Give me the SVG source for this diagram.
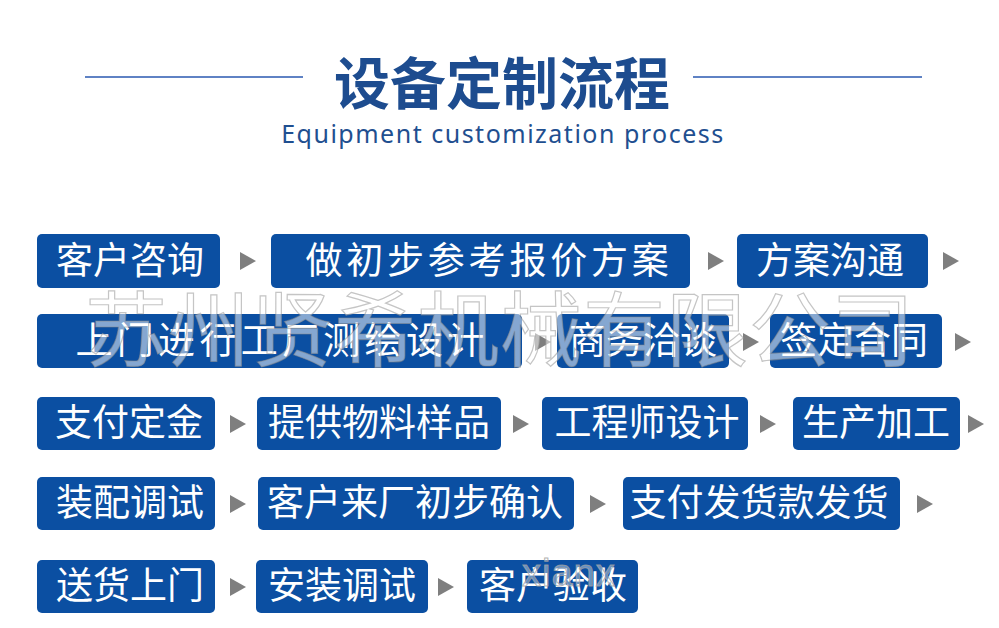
<svg xmlns="http://www.w3.org/2000/svg" width="999" height="628" viewBox="0 0 999 628">
<style>
.box{fill:#0b4fa2;}
.t{font-family:"Noto Sans CJK SC","Noto Sans",sans-serif;font-size:37px;fill:#ffffff;text-anchor:middle;}
.title{font-family:"Noto Sans CJK SC","Noto Sans",sans-serif;font-size:56px;font-weight:bold;fill:#1d4c8f;text-anchor:middle;}
.sub{font-family:"Noto Sans","Open Sans",sans-serif;font-size:25px;fill:#1f4f90;text-anchor:middle;letter-spacing:1.5px;}
.rule{stroke:#5f82c4;stroke-width:2;}
.arr{fill:#7f7f7f;}
.wm{font-family:"Noto Sans CJK SC",sans-serif;font-size:82px;font-weight:normal;fill:#ffffff;fill-opacity:0.5;stroke:#8c8c8c;stroke-opacity:0.5;stroke-width:1.2;}
.wm2{font-family:"Liberation Sans",sans-serif;font-size:38px;fill:#ffffff;fill-opacity:0.4;stroke:#a0a0a0;stroke-opacity:0.8;stroke-width:1;letter-spacing:1px;}
</style>
<defs>
<path id="tri" d="M0,-9 L16,0 L0,9 Z"/>
</defs>
<rect width="999" height="628" fill="#ffffff"/>
<g id="header">
<line class="rule" x1="85" y1="77" x2="303" y2="77"/>
<line class="rule" x1="693" y1="77" x2="922" y2="77"/>
<text class="title" x="502" y="104">设备定制流程</text>
<text class="sub" x="503" y="143">Equipment customization process</text>
</g>
<g id="connectors">
<use class="arr" href="#tri" x="240" y="261"/>
<use class="arr" href="#tri" x="708" y="261"/>
<use class="arr" href="#tri" x="943" y="261"/>
<use class="arr" href="#tri" x="535" y="342"/>
<use class="arr" href="#tri" x="743" y="342"/>
<use class="arr" href="#tri" x="955" y="342"/>
<use class="arr" href="#tri" x="230" y="424"/>
<use class="arr" href="#tri" x="513" y="424"/>
<use class="arr" href="#tri" x="760" y="424"/>
<use class="arr" href="#tri" x="968" y="424"/>
<use class="arr" href="#tri" x="230" y="504"/>
<use class="arr" href="#tri" x="590" y="504"/>
<use class="arr" href="#tri" x="917" y="504"/>
<use class="arr" href="#tri" x="230" y="587"/>
<use class="arr" href="#tri" x="438" y="587"/>
</g>
<g id="n1"><rect class="box" x="37" y="234" width="183" height="54" rx="5"/><text class="t" x="130" y="274">客户咨询</text></g>
<g id="n2"><rect class="box" x="271" y="234" width="419" height="54" rx="5"/><text class="t" x="489" y="274" style="letter-spacing:3.8px">做初步参考报价方案</text></g>
<g id="n3"><rect class="box" x="737" y="234" width="191" height="54" rx="5"/><text class="t" x="830" y="274">方案沟通</text></g>
<g id="n4"><rect class="box" x="37" y="314" width="485" height="54" rx="5"/><text class="t" x="282" y="354" style="letter-spacing:4.3px">上门进行工厂测绘设计</text></g>
<g id="n5"><rect class="box" x="557" y="314" width="172" height="54" rx="5"/><text class="t" x="643" y="354">商务洽谈</text></g>
<g id="n6"><rect class="box" x="770" y="314" width="172" height="54" rx="5"/><text class="t" x="854" y="354">签定合同</text></g>
<g id="n7"><rect class="box" x="37" y="397" width="178" height="53" rx="5"/><text class="t" x="129" y="436">支付定金</text></g>
<g id="n8"><rect class="box" x="257" y="397" width="244" height="53" rx="5"/><text class="t" x="379" y="436">提供物料样品</text></g>
<g id="n9"><rect class="box" x="542" y="397" width="206" height="53" rx="5"/><text class="t" x="647" y="436">工程师设计</text></g>
<g id="n10"><rect class="box" x="793" y="397" width="167" height="53" rx="5"/><text class="t" x="876" y="436">生产加工</text></g>
<g id="n11"><rect class="box" x="37" y="477" width="178" height="53" rx="5"/><text class="t" x="130" y="516">装配调试</text></g>
<g id="n12"><rect class="box" x="258" y="477" width="316" height="53" rx="5"/><text class="t" x="415" y="516">客户来厂初步确认</text></g>
<g id="n13"><rect class="box" x="623" y="477" width="277" height="53" rx="5"/><text class="t" x="759" y="516">支付发货款发货</text></g>
<g id="n14"><rect class="box" x="37" y="560" width="178" height="53" rx="5"/><text class="t" x="130" y="599">送货上门</text></g>
<g id="n15"><rect class="box" x="256" y="560" width="172" height="53" rx="5"/><text class="t" x="342" y="599">安装调试</text></g>
<g id="n16"><rect class="box" x="467" y="560" width="171" height="53" rx="5"/><text class="t" x="553" y="599">客户验收</text></g>
<g id="watermark">
<text class="wm" x="85" y="360" style="letter-spacing:1px">苏州贤希机械有限公司</text>
<text class="wm2" x="522" y="586">xianx</text>
</g>
</svg>
